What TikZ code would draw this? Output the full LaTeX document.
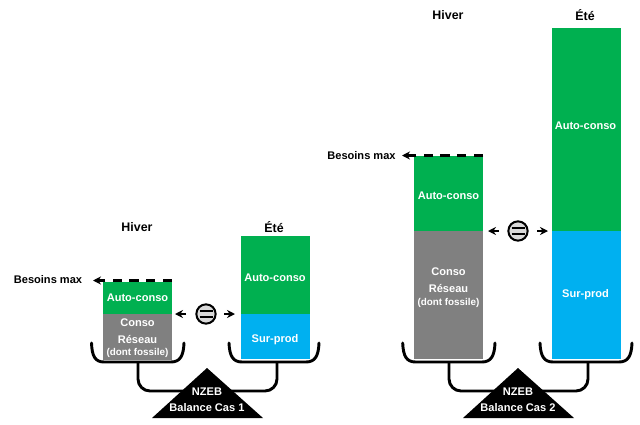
\documentclass[tikz,border=0pt]{standalone}
\usepackage{fontspec}
\setmainfont{Liberation Sans}
\usetikzlibrary{arrows.meta}

\definecolor{autogreen}{HTML}{00B050}
\definecolor{prodblue}{HTML}{00B0F0}
\definecolor{gridgray}{HTML}{808080}
\definecolor{signgray}{HTML}{D9D9D9}

\begin{document}
\begin{tikzpicture}[
    x=0.75pt, y=-0.75pt,
    font=\fontsize{8.3pt}{10pt}\selectfont\bfseries,
    bar_box/.style={rectangle, inner sep=0pt, anchor=north west, minimum width=51.6pt},
    bar_text/.style={text=white, inner sep=0pt},
    season/.style={font=\fontsize{9.3pt}{11pt}\selectfont\bfseries},
    small_text/.style={text=white, inner sep=0pt, font=\fontsize{7.4pt}{9pt}\selectfont\bfseries},
    pan_line/.style={line width=2.2pt, black, line cap=round},
    beam_line/.style={line width=2.2pt, black, rounded corners=9pt},
    max_line/.style={line width=1.7pt, black, dash pattern=on 7pt off 5.5pt},
    tip_arrow/.style={line width=1.2pt, black, -{Stealth[length=6pt, width=6pt]}},
    equal_sign/.style={circle, draw=black, line width=1.5pt, fill=signgray, minimum size=14.5pt, inner sep=0pt},
    pivot/.style={draw=none, fill=black, isosceles triangle}
]
\useasboundingbox (0,0) rectangle (640,425);

% Balance beams (behind the triangles)
\coordinate (panL1) at (138,362);
\coordinate (panR1) at (277,362);
\coordinate (panL2) at (449,362);
\coordinate (panR2) at (588,362);
\coordinate (foot1) at (207,391);
\coordinate (foot2) at (518,391);
\draw[beam_line] (panL1) |- (foot1) -| (panR1);
\draw[beam_line] (panL2) |- (foot2) -| (panR2);

% Bars - Cas 1
\node[bar_box, fill=autogreen, minimum height=23.7pt] (auto1h) at (103,281.7) {};
\node[bar_box, fill=gridgray, minimum height=34.5pt] (grid1) at (103,313.3) {};
\node[bar_box, fill=autogreen, minimum height=58.5pt] (auto1e) at (241,236) {};
\node[bar_box, fill=prodblue, minimum height=33.75pt] (prod1) at (241,314) {};

% Bars - Cas 2
\node[bar_box, fill=autogreen, minimum height=56.25pt] (auto2h) at (414,156) {};
\node[bar_box, fill=gridgray, minimum height=96pt] (grid2) at (414,231) {};
\node[bar_box, fill=autogreen, minimum height=152.25pt] (auto2e) at (551.5,28) {};
\node[bar_box, fill=prodblue, minimum height=96pt] (prod2) at (551.5,231) {};

% Bar labels
\node[bar_text] (tauto1h) at (137.5,298) {Auto-conso};
\node[bar_text] (tconso1) at (137.5,322.7) {Conso};
\node[bar_text] (tres1) at (137.5,339) {Réseau};
\node[small_text] (tfos1) at (137.5,353) {(dont fossile)};
\node[bar_text] (tauto1e) at (275,277.7) {Auto-conso};
\node[bar_text] (tprod1) at (275,339.3) {Sur-prod};
\node[bar_text] (tauto2h) at (448.5,195.5) {Auto-conso};
\node[bar_text] (tconso2) at (448.5,271.7) {Conso};
\node[bar_text] (tres2) at (448.5,288) {Réseau};
\node[small_text] (tfos2) at (448.5,302.5) {(dont fossile)};
\node[bar_text] (tauto2e) at (585.5,126) {Auto-conso};
\node[bar_text] (tprod2) at (585.5,294.5) {Sur-prod};

% Season titles
\node[season] (hiver1) at (137,227) {Hiver};
\node[season] (ete1) at (274,227) {Été};
\node[season] (hiver2) at (448,15) {Hiver};
\node[season] (ete2) at (585,15) {Été};

% Besoins max
\node[inner sep=0pt] (max1) at (48,280) {Besoins max};
\node[inner sep=0pt] (max2) at (361.5,155.5) {Besoins max};
\coordinate (maxend1) at (172,280.5);
\coordinate (maxend2) at (483,155.5);
\coordinate (maxtip1) at (93,280.5);
\coordinate (maxtip2) at (402,155.5);
\draw[max_line] (maxend1) -- (maxtip1);
\draw[max_line] (maxend2) -- (maxtip2);
\draw[tip_arrow] (103,280.5) -- (maxtip1);
\draw[tip_arrow] (412,155.5) -- (maxtip2);

% Equal signs
\node[equal_sign] (eq1) at (206,314) {};
\node[equal_sign] (eq2) at (518,231) {};
\foreach \eqname in {eq1, eq2} {
    \draw[line width=1.5pt] ([shift={(-6.5,-3)}]\eqname.center) -- ++(13,0);
    \draw[line width=1.5pt] ([shift={(-6.5,3)}]\eqname.center) -- ++(13,0);
}
\coordinate (arrL1) at (175,314);
\coordinate (arrR1) at (235,314);
\coordinate (arrL2) at (488,231);
\coordinate (arrR2) at (548,231);
\draw[tip_arrow] (186,314) -- (arrL1);
\draw[tip_arrow] (224,314) -- (arrR1);
\draw[tip_arrow] (499,231) -- (arrL2);
\draw[tip_arrow] (537,231) -- (arrR2);

% Pans
\draw[pan_line] (91.5,343) .. controls (92,356) and (95,362) .. (104,362) -- (171,362) .. controls (180,362) and (183.5,356) .. (184,343);
\draw[pan_line] (229,343) .. controls (229.5,356) and (233,362) .. (242,362) -- (306,362) .. controls (315,362) and (318.5,356) .. (319,343);
\draw[pan_line] (402.7,343) .. controls (403.2,356) and (406.5,362) .. (415.5,362) -- (482,362) .. controls (491,362) and (494.5,356) .. (495,343);
\draw[pan_line] (540,343) .. controls (540.5,356) and (544,362) .. (553,362) -- (619,362) .. controls (628,362) and (631.5,356) .. (632,343);

% Triangles
\fill[black] (207,368) -- (263,418) -- (152,418) -- cycle;
\fill[black] (518,368) -- (574,418) -- (463,418) -- cycle;
\node[text=white, inner sep=0pt] (nzeb1) at (207,392) {NZEB};
\node[text=white, inner sep=0pt] (cas1) at (207,408) {Balance Cas 1};
\node[text=white, inner sep=0pt] (nzeb2) at (518,392) {NZEB};
\node[text=white, inner sep=0pt] (cas2) at (518,408) {Balance Cas 2};

\end{tikzpicture}
\end{document}
